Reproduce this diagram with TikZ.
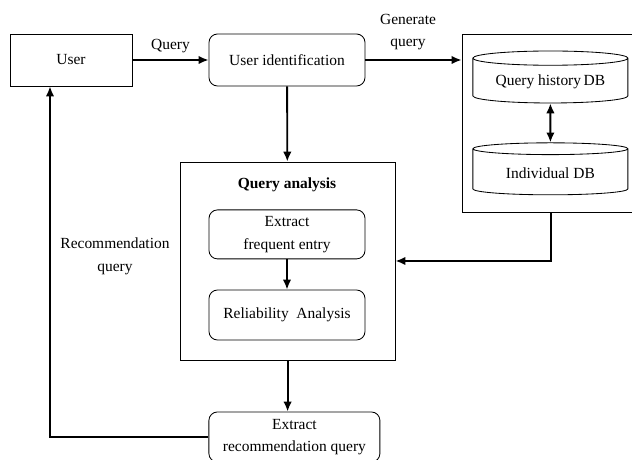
\documentclass[tikz,border=0pt]{standalone}
\usepackage{fontspec}
\setmainfont{Liberation Serif}
\usepackage{tikz}
\usetikzlibrary{calc}
\usetikzlibrary{arrows}
\usetikzlibrary{arrows.meta}
\usetikzlibrary{shapes}
\usetikzlibrary{positioning}
\usetikzlibrary{shapes.geometric}
\tikzset{>={Latex[length=7pt, width=6pt]}}
\tikzstyle{box} = [draw, line width = 0.6pt, align = center, minimum width = 3.9cm, minimum height = 1.25cm, font = \fontsize{11}{16}\selectfont]
\tikzstyle{rbox} = [box, rounded corners = 6pt]
\tikzstyle{db} = [draw, cylinder, shape border rotate = 90, aspect = 0.12, line width = 0.6pt, minimum width = 3.875cm, minimum height = 1.3cm, font = \fontsize{11}{16}\selectfont]
\tikzstyle{lbl} = [align = center, font = \fontsize{11}{16}\selectfont]
\tikzstyle{flow} = [->, line width = 1.3pt]

\begin{document}
\begin{tikzpicture}
\useasboundingbox (0, 0) rectangle (15.8, 11.5);
\node [box, minimum width = 3.05cm, minimum height = 1.3cm] (user) at (1.775, 10.0) {User};
\node [rbox, minimum height = 1.3cm] (ident) at (7.175, 10.0) {User identification};
\node [box, minimum width = 4.45cm, minimum height = 4.45cm] (store) at (13.775, 8.425) {};
\node [db] (hist) at (13.76, 9.45) {Query history\,DB};
\node [db] (indiv) at (13.76, 7.175) {Individual DB};
\node [box, minimum width = 5.375cm, minimum height = 4.95cm] (qa) at (7.19, 4.975) {};
\node [lbl, font = \fontsize{11}{16}\selectfont\bfseries] (qatitle) at (7.175, 6.875) {Query analysis};
\node [rbox, minimum height = 1.225cm] (freq) at (7.175, 5.64) {Extract\\frequent entry};
\node [rbox] (rel) at (7.175, 3.625) {Reliability~ Analysis};
\node [rbox, minimum width = 4.275cm] (rec) at (7.36, 0.575) {Extract\\recommendation query};
\coordinate (turn) at (13.775, 4.975);
\coordinate (back) at (1.25, 0.575);

\draw [flow] (user) to node [lbl, above = 1pt] (qlbl) {Query} (ident);
\draw [flow] (ident) to (ident -| store.west);
\node [lbl] (genlbl) at (10.2, 10.7) {Generate\\query};
\draw [<->, line width = 1.3pt] (hist) to (indiv);
\draw [flow] (ident) to (qa);
\draw [flow] (store.south) to (turn) to (qa.east);
\draw [flow] (freq) to (rel);
\draw [flow] (qa.south) to (qa.south |- rec.north);
\draw [flow] (rec.west) to (back) to (back |- user.south);
\node [lbl] (reclbl) at (2.875, 5.09) {Recommendation\\query};
\end{tikzpicture}
\end{document}
